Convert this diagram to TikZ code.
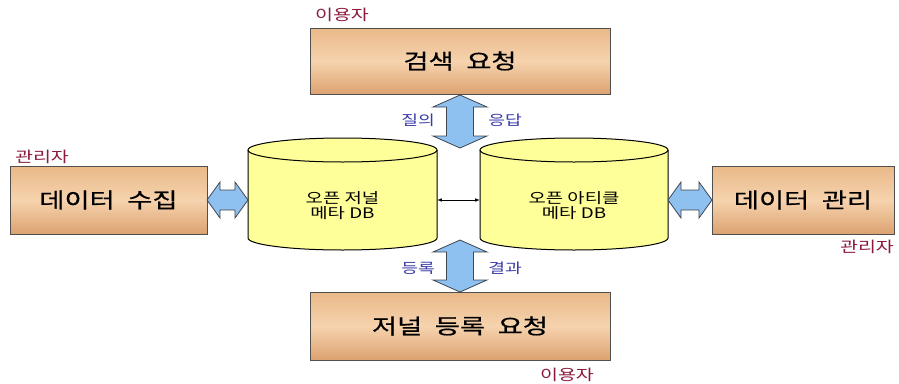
\documentclass[tikz,border=0pt]{standalone}
\usepackage{fontspec}
\newfontfamily\kr[FakeStretch=1.3]{Noto Sans CJK KR}
\newfontfamily\krbold[FakeStretch=1.3,FakeBold=0.6]{Noto Sans CJK KR}
\usetikzlibrary{calc}
\definecolor{boxedge}{HTML}{505050}
\definecolor{tantop}{HTML}{E9B888}
\definecolor{tanmid}{HTML}{F6D3AE}
\definecolor{tanbot}{HTML}{DCA270}
\definecolor{dbfill}{HTML}{FFFF99}
\definecolor{arrowfill}{HTML}{8EC0F0}
\definecolor{arrowedge}{HTML}{404850}
\definecolor{qlabel}{HTML}{3A3AA8}
\definecolor{rolelabel}{HTML}{8B1A3C}
\tikzset{
  taskbox/.style={draw=boxedge, line width=0.9pt, top color=tantop, bottom color=tanbot,
    middle color=tanmid, inner sep=0pt, font=\krbold\fontsize{21}{24}\selectfont},
  dbtext/.style={font=\kr\fontsize{14.5}{17}\selectfont, align=center},
  blockarrow/.style={draw=arrowedge, fill=arrowfill, line width=0.8pt, line join=miter},
  dblink/.style={latex-latex, line width=0.6pt},
  flowlabel/.style={font=\kr\fontsize{14}{16}\selectfont, text=qlabel},
  rolenote/.style={font=\kr\fontsize{15}{17}\selectfont, text=rolelabel},
}
\newcommand{\wsp}{\hspace{0.6em}}
% cylinder: x-left, x-right, y of top cap centre, y of bottom cap centre
\newcommand{\dbdraw}[4]{%
  \fill[dbfill] (#1,#3) -- (#1,#4) arc[start angle=180,end angle=0,x radius={(#2-#1)/2},y radius=12]
    -- (#2,#3) arc[start angle=0,end angle=-180,x radius={(#2-#1)/2},y radius=12] -- cycle;
  \draw[line width=1pt] (#1,#3) -- (#1,#4) arc[start angle=180,end angle=0,x radius={(#2-#1)/2},y radius=12] -- (#2,#3);
  \draw[line width=1pt] ({(#1+#2)/2},#3) ellipse[x radius={(#2-#1)/2},y radius=12];
}
% vertical double block arrow: centre x, top tip y, bottom tip y, half shaft, half head, head length
\newcommand{\vblock}[6]{%
  \draw[blockarrow] (#1,#2) -- ({#1+#5},{#2+#6}) -- ({#1+#4},{#2+#6}) -- ({#1+#4},{#3-#6})
    -- ({#1+#5},{#3-#6}) -- (#1,#3) -- ({#1-#5},{#3-#6}) -- ({#1-#4},{#3-#6})
    -- ({#1-#4},{#2+#6}) -- ({#1-#5},{#2+#6}) -- cycle;
}
% horizontal double block arrow: centre y, left tip x, right tip x, half shaft, half head, head length
\newcommand{\hblock}[6]{%
  \draw[blockarrow] (#2,#1) -- ({#2+#6},{#1-#5}) -- ({#2+#6},{#1-#4}) -- ({#3-#6},{#1-#4})
    -- ({#3-#6},{#1-#5}) -- (#3,#1) -- ({#3-#6},{#1+#5}) -- ({#3-#6},{#1+#4})
    -- ({#2+#6},{#1+#4}) -- ({#2+#6},{#1+#5}) -- cycle;
}
\begin{document}
\begin{tikzpicture}[x=1pt,y=-1pt]
\useasboundingbox (0,0) rectangle (899,383);
\fill[white] (0,0) rectangle (899,383);

% task boxes
\node[taskbox, minimum width=300pt, minimum height=66pt] (search) at (460,61) {검색\wsp 요청};
\node[taskbox, minimum width=197pt, minimum height=68pt] (collect) at (108.5,200) {데이터\wsp 수집};
\node[taskbox, minimum width=182pt, minimum height=68pt] (manage) at (803,200) {데이터\wsp 관리};
\node[taskbox, minimum width=300pt, minimum height=68pt] (register) at (460,326) {저널\wsp 등록\wsp 요청};

% metadata databases
\dbdraw{248}{437}{150}{238}
\dbdraw{480}{668}{150}{238}
\node[minimum width=189pt, minimum height=112pt, inner sep=0pt] (journaldb) at (342.5,194) {};
\node[dbtext] (jdbtext) at (342.5,206) {오픈 저널\\[-2pt]메타 DB};
\node[minimum width=188pt, minimum height=112pt, inner sep=0pt] (articledb) at (574,194) {};
\node[dbtext] (adbtext) at (574,206) {오픈 아티클\\[-2pt]메타 DB};

% link between the two databases
\draw[dblink] (journaldb.east |- 0,200) -- (articledb.west |- 0,200);

% block arrows
\vblock{460}{95}{148}{13.5}{27}{12}
\vblock{460}{240}{292}{13.5}{27}{12}
\hblock{200}{207}{248}{10}{18}{13}
\hblock{200}{668}{712}{10}{18}{13}

% arrow captions
\node[flowlabel] (q) at (418,120) {질의};
\node[flowlabel] (a) at (505,120) {응답};
\node[flowlabel] (r) at (418,268) {등록};
\node[flowlabel] (res) at (505,268) {결과};

% roles
\node[rolenote] (u1) at (342,15) {이용자};
\node[rolenote] (m1) at (42,157) {관리자};
\node[rolenote] (m2) at (867,247) {관리자};
\node[rolenote] (u2) at (567,375) {이용자};
\end{tikzpicture}
\end{document}
